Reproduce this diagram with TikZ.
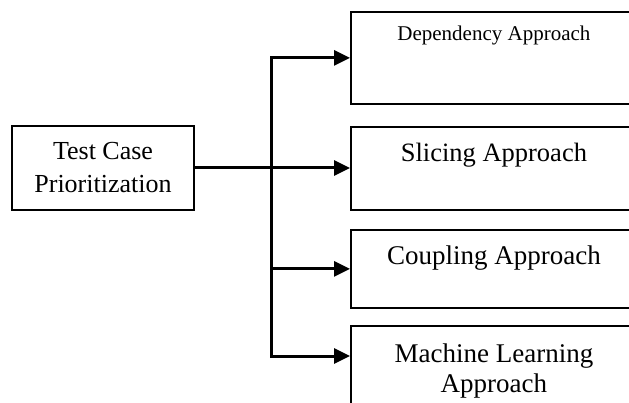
\documentclass[tikz,border=0pt]{standalone}
\usepackage{fontspec}
\setmainfont{Liberation Serif}
\usetikzlibrary{arrows.meta, calc}

\begin{document}
\begin{tikzpicture}[x=1pt, y=-1pt,
  box/.style={draw, line width=1.8pt, inner sep=0pt, minimum width=286pt},
  link/.style={line width=3pt},
  arr/.style={link, -{Triangle[length=16pt,width=15pt]}}]
\clip (0,0) rectangle (629,403);
% source box
\node[box, minimum width=182pt, minimum height=84pt, align=center,
  font=\fontsize{26}{33}\selectfont] (tcp) at (103,168) {Test Case\\Prioritization};
% approach boxes
\node[box, anchor=north west, text height=29pt, text depth=63pt,
  font=\fontsize{21}{25}\selectfont] (dep) at (350,11) {Dependency Approach};
\node[box, anchor=north west, text height=35pt, text depth=48pt,
  font=\fontsize{26.5}{30}\selectfont] (slice) at (350,126) {Slicing Approach};
\node[box, anchor=north west, text height=35pt, text depth=43pt,
  font=\fontsize{27}{30}\selectfont] (coup) at (350,229) {Coupling Approach};
\node[box, anchor=north west, minimum height=90pt, align=center,
  font=\fontsize{27}{30}\selectfont] (ml) at (350,325) {Machine Learning\\Approach};
% connectors
\coordinate (split) at (271,168);
\coordinate (mlin) at ([yshift=-31pt]ml.north west);
\draw[arr] (tcp.east) -- (tcp.east -| slice.west);
\draw[arr] (split) |- (dep.west);
\draw[arr] (split) |- (coup.west);
\draw[arr] (split) |- (mlin);
\end{tikzpicture}
\end{document}
